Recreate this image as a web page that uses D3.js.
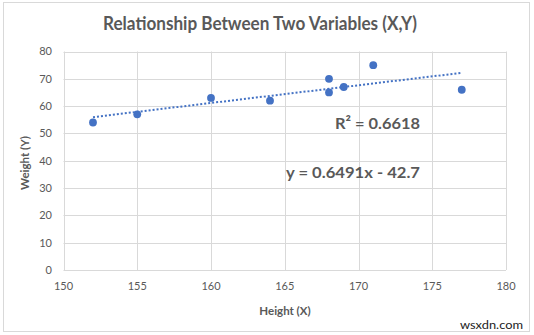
<!DOCTYPE html>
<html><head><meta charset="utf-8">
<script src="https://cdn.jsdelivr.net/npm/d3@7"></script>
<style>body{margin:0;background:#fff}svg{display:block}text{font-family:Lato,"Open Sans",sans-serif}</style>
</head><body>
<svg id="c" width="534" height="335"></svg>
<script>
const heights = [152,155,160,164,168,168,169,171,177];
const weights = [54,57,63,62,70,65,67,75,66];
const xTicks = [150,155,160,165,170,175,180];
const yTicks = [0,10,20,30,40,50,60,70,80];
const slope = 0.6491, intercept = -42.7;
const trendRange = [152,177];
const title = "Relationship Between Two Variables (X,Y)";
const xTitle = "Height (X)", yTitle = "Weight (Y)";
const r2Label = "R² = 0.6618", eqLabel = "y = 0.6491x - 42.7";

const svg = d3.select("#c");
const grey = "#595959", blue = "#4472C4";
svg.append("rect").attr("x",3.5).attr("y",2.5).attr("width",526).attr("height",329)
  .attr("fill","#fff").attr("stroke","#d9d9d9");

const x = d3.scaleLinear().domain([150,180]).range([63.5,506]);
const y = d3.scaleLinear().domain([0,80]).range([270,51.5]);

const g = svg.append("g");
g.selectAll(".hg").data(yTicks).join("line")
  .attr("x1",x(150)).attr("x2",x(180)).attr("y1",d=>Math.round(y(d))+0.5).attr("y2",d=>Math.round(y(d))+0.5)
  .attr("stroke","#d9d9d9");
g.selectAll(".vg").data(xTicks).join("line")
  .attr("y1",y(0)).attr("y2",y(80)).attr("x1",d=>Math.round(x(d))+0.5).attr("x2",d=>Math.round(x(d))+0.5)
  .attr("stroke","#d9d9d9");

g.selectAll(".yl").data(yTicks).join("text")
  .attr("x",52).attr("y",d=>y(d)).attr("dy","0.35em").attr("text-anchor","end")
  .attr("font-size",11).attr("fill",grey).text(d=>d);
g.selectAll(".xl").data(xTicks).join("text")
  .attr("x",d=>x(d)).attr("y",290).attr("text-anchor","middle")
  .attr("font-size",11).attr("fill",grey).text(d=>d);

// trendline
g.append("line")
  .attr("x1",x(trendRange[0])).attr("y1",y(slope*trendRange[0]+intercept))
  .attr("x2",x(trendRange[1])).attr("y2",y(slope*trendRange[1]+intercept))
  .attr("stroke",blue).attr("stroke-width",2).attr("stroke-dasharray","2,2");

g.selectAll(".pt").data(heights).join("circle")
  .attr("cx",(d)=>x(d)).attr("cy",(d,i)=>y(weights[i])).attr("r",3.9).attr("fill",blue);

svg.append("text").attr("x",260).attr("y",30).attr("text-anchor","middle")
  .attr("font-size",18).attr("font-weight","bold").attr("fill",grey)
  .attr("textLength",314).attr("lengthAdjust","spacingAndGlyphs").text(title);
svg.append("text").attr("x",285).attr("y",315).attr("text-anchor","middle")
  .attr("font-size",11.5).attr("font-weight","bold").attr("fill",grey).text(xTitle);
svg.append("text").attr("transform","translate(29,163) rotate(-90)").attr("text-anchor","middle")
  .attr("font-size",11.5).attr("font-weight","bold").attr("fill",grey).text(yTitle);

svg.append("text").attr("x",420).attr("y",129).attr("text-anchor","end")
  .attr("font-size",16).attr("font-weight","bold").attr("fill",grey)
  .attr("textLength",85).attr("lengthAdjust","spacingAndGlyphs").text(r2Label);
svg.append("text").attr("x",286).attr("y",178)
  .attr("font-size",16).attr("font-weight","bold").attr("fill",grey)
  .attr("textLength",134).attr("lengthAdjust","spacingAndGlyphs").text(eqLabel);

svg.append("text").attr("x",523).attr("y",329).attr("text-anchor","end")
  .attr("font-size",12).attr("fill","#222").attr("font-family","DejaVu Sans")
  .attr("textLength",63).attr("lengthAdjust","spacingAndGlyphs").text("wsxdn.com");
</script>
</body></html>
